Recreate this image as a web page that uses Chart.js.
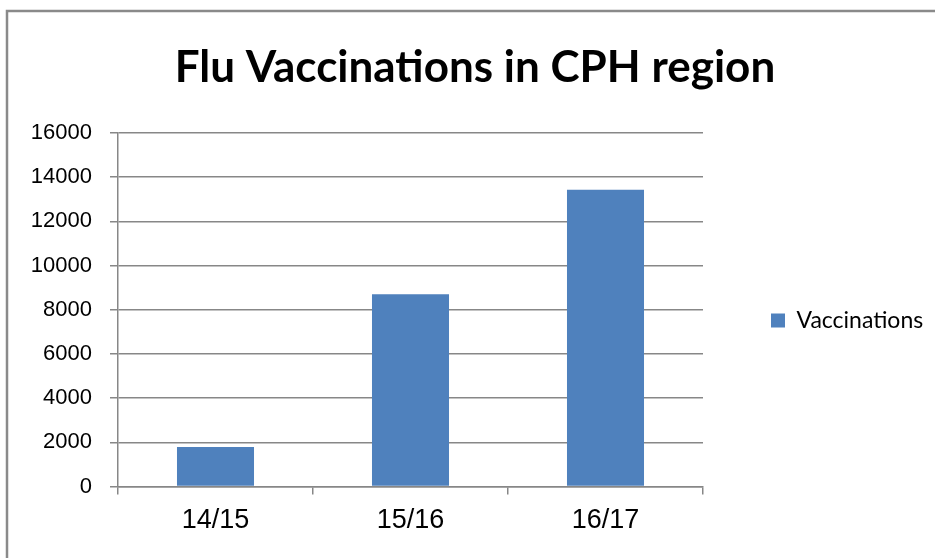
<!DOCTYPE html>
<html>
<head>
<meta charset="utf-8">
<script src="https://cdn.jsdelivr.net/npm/chart.js@4/dist/chart.umd.min.js"></script>
<style>
  html, body { margin: 0; padding: 0; background: #fff; }
  #wrap { position: absolute; left: 0; top: 0; width: 935px; height: 558px; }
</style>
</head>
<body>
<div id="wrap"><canvas id="c" width="935" height="558"></canvas></div>
<script>
const titleText = "Flu Vaccinations in CPH region";
const categories = ["14/15", "15/16", "16/17"];
const seriesName = "Vaccinations";
const vaccinations = [1790, 8700, 13420];
const yMin = 0, yMax = 16000, yStep = 2000;

const gridColor = "#878787";

const frame = {
  id: "frame",
  beforeDraw(chart) {
    const ctx = chart.ctx;
    ctx.save();
    ctx.fillStyle = "#fff";
    ctx.fillRect(0, 0, chart.width, chart.height);
    ctx.strokeStyle = "#8a8a8a";
    ctx.lineWidth = 2.5;
    ctx.beginPath();
    ctx.moveTo(7, chart.height);
    ctx.lineTo(7, 11);
    ctx.lineTo(chart.width, 11);
    ctx.stroke();
    ctx.restore();
  }
};

const legendFix = {
  id: "legendFix",
  afterInit(chart) {
    const lg = chart.legend;
    if (!lg) return;
    const orig = lg.fit.bind(lg);
    lg.fit = function () { orig(); this.width = 232; };
  },
  afterLayout(chart) {
    const lg = chart.legend;
    if (!lg) return;
    lg.top += 47; lg.bottom += 47;
  }
};

new Chart(document.getElementById("c"), {
  type: "bar",
  data: {
    labels: categories,
    datasets: [{
      label: seriesName,
      data: vaccinations,
      backgroundColor: "#4F81BD",
      borderWidth: 0,
      categoryPercentage: 1,
      barPercentage: 0.395
    }]
  },
  plugins: [frame, legendFix],
  options: {
    responsive: false,
    animation: false,
    layout: { padding: { left: 15, right: 0, top: 0, bottom: 11 } },
    plugins: {
      title: {
        display: true,
        text: titleText,
        color: "#000",
        font: { family: "Lato", size: 44, weight: "bold", lineHeight: 1.2 },
        padding: { top: 41, bottom: 39 }
      },
      legend: {
        position: "right",
        labels: {
          boxWidth: 14,
          boxHeight: 14,
          padding: 68,
          color: "#000",
          font: { family: "Lato", size: 23 }
        }
      },
      tooltip: { enabled: false }
    },
    scales: {
      x: {
        offset: true,
        grid: {
          offset: true,
          drawOnChartArea: false,
          drawTicks: true,
          tickLength: 8,
          color: gridColor,
          lineWidth: 1.5
        },
        border: { display: true, color: gridColor, width: 1.5 },
        ticks: {
          color: "#000",
          padding: 10,
          font: { family: "Liberation Sans", size: 27 }
        }
      },
      y: {
        min: yMin,
        max: yMax,
        ticks: {
          stepSize: yStep,
          color: "#000",
          padding: 18,
          font: { family: "Liberation Sans", size: 22 },
          callback: (v) => String(v)
        },
        grid: {
          color: gridColor,
          lineWidth: 1.5,
          tickLength: 8
        },
        border: { display: true, color: gridColor, width: 1.5 },
        afterFit(scale) { scale.width = 103; }
      }
    }
  }
});
</script>
</body>
</html>
